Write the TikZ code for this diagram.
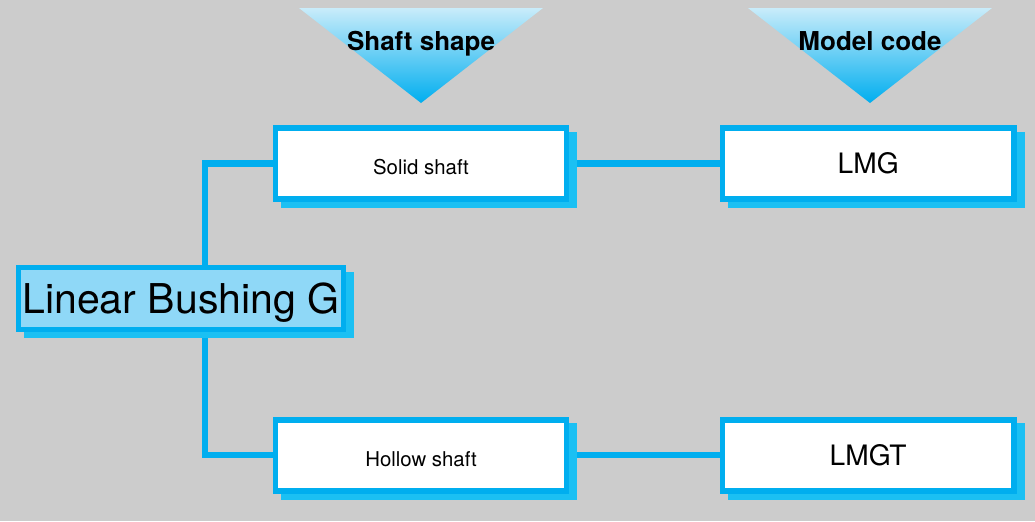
\documentclass[tikz,border=0pt]{standalone}
\usepackage{fontspec}
\setmainfont{TeX Gyre Heros}
\usetikzlibrary{positioning, backgrounds}
\definecolor{pagegray}{HTML}{CCCCCC}
\definecolor{linkblue}{HTML}{00AEEF}
\definecolor{shadeblue}{HTML}{1BC0F3}
\definecolor{rootfill}{HTML}{8FD8F7}
\definecolor{headtop}{HTML}{C9ECFA}

\begin{document}
\begin{tikzpicture}[
        x=0.025cm, y=-0.025cm,
        node distance=153pt and 107pt, % gaps between the box rows and columns
        box/.style={rectangle, draw=linkblue, line width=4pt, fill=white, inner sep=0pt, align=center,
            minimum width=207pt, minimum height=50.5pt,
            preaction={draw=shadeblue, fill=shadeblue, transform canvas={xshift=5.7pt, yshift=-4.6pt}}},
        rootbox/.style={box, fill=rootfill, line width=3.6pt, minimum width=231pt, minimum height=43.5pt,
            text depth=0pt, font=\fontsize{29.2}{31}\selectfont},
        kind/.style={box, text height=16pt, font=\fontsize{14.5}{16}\selectfont},
        code/.style={box, font=\fontsize{20}{22}\selectfont},
        header/.style={anchor=base, font=\bfseries\fontsize{18.5}{20}\selectfont},
        link/.style={draw=linkblue, line width=4.3pt}
    ]

    % --- Background ---
    \begin{scope}[on background layer]
        \fill[pagegray] (0,0) rectangle (1035,521);
    \end{scope}

    % --- Column headers ---
    \shade[top color=headtop, bottom color=linkblue] (299,8) -- (543,8) -- (421,103) -- cycle;
    \shade[top color=headtop, bottom color=linkblue] (748,8) -- (992,8) -- (870,103) -- cycle;
    \node[header] (shapehead) at (421,50) {Shaft shape};
    \node[header] (codehead) at (870,50) {Model code};

    % --- Nodes ---
    \node[rootbox] (bushing) at (181,298.5) {Linear Bushing G};
    \node[kind] (solid) at (421,163.5) {Solid shaft};
    \node[kind, below=of solid] (hollow) {Hollow shaft};
    \node[code, right=of solid] (lmg) {LMG};
    \node[code, right=of hollow] (lmgt) {LMGT};
    \coordinate (trunk) at (205,298.5);

    % --- Edges ---
    \begin{scope}[on background layer]
        \draw[link] (trunk) |- (solid.west);
        \draw[link] (trunk) |- (hollow.west);
        \draw[link] (solid.east) -- (lmg.west);
        \draw[link] (hollow.east) -- (lmgt.west);
    \end{scope}

\end{tikzpicture}
\end{document}
